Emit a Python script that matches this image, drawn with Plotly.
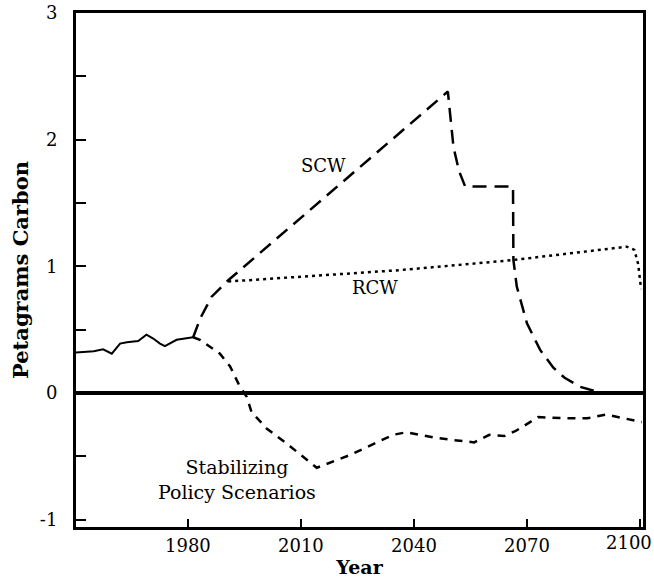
import plotly.graph_objects as go

# Historical record (solid)
hist_years = [1950.3, 1955.0, 1957.5, 1959.8, 1962.0, 1963.8, 1966.8, 1969.0, 1970.8,
              1972.6, 1973.9, 1975.3, 1977.0, 1979.2, 1981.4]
hist_vals = [0.32, 0.33, 0.345, 0.31, 0.39, 0.40, 0.41, 0.46, 0.43,
             0.39, 0.37, 0.39, 0.42, 0.43, 0.44]

# SCW scenario (long dash)
scw_years = [1981.4, 1983.3, 1986.3, 1990.7, 2049.0, 2049.5, 2050.5, 2052.0, 2053.6,
             2066.3, 2066.4, 2067.3, 2070.0, 2073.5, 2077.0, 2080.0, 2084.0, 2088.0, 2091.0]
scw_vals = [0.44, 0.59, 0.76, 0.89, 2.38, 2.22, 1.94, 1.75, 1.63,
            1.63, 1.05, 0.84, 0.55, 0.34, 0.20, 0.12, 0.05, 0.015, 0.0]

# RCW scenario (dotted)
rcw_years = [1990.7, 2036.3, 2066.4, 2096.5, 2098.5, 2099.5, 2100.3]
rcw_vals = [0.88, 0.97, 1.05, 1.155, 1.13, 1.02, 0.82]

# Stabilizing policy scenarios (short dash)
pol_years = [1981.4, 1983.2, 1988.5, 1991.2, 1993.8, 1995.6, 1996.9, 2000.9, 2007.1,
             2014.2, 2023.0, 2034.5, 2038.0, 2045.1, 2050.0, 2056.0, 2060.0, 2064.0,
             2067.0, 2073.0, 2080.0, 2086.0, 2091.0, 2100.5]
pol_vals = [0.44, 0.42, 0.31, 0.21, 0.05, -0.03, -0.15, -0.28, -0.42,
            -0.59, -0.49, -0.33, -0.31, -0.35, -0.37, -0.39, -0.33, -0.34,
            -0.30, -0.19, -0.20, -0.20, -0.17, -0.23]

x_ticks = [1980, 2010, 2040, 2070, 2100]
x_labels = ["1980", "2010", "2040", "2070", ""]
y_ticks = [-1, 0, 1, 2, 3]

FONT = "DejaVu Serif"

fig = go.Figure()
fig.add_trace(go.Scatter(x=hist_years, y=hist_vals, mode="lines",
                         line=dict(color="black", width=2)))
fig.add_trace(go.Scatter(x=scw_years, y=scw_vals, mode="lines",
                         line=dict(color="black", width=2.5, dash="14px,8px")))
fig.add_trace(go.Scatter(x=rcw_years, y=rcw_vals, mode="lines",
                         line=dict(color="black", width=2.5, dash="3px,4px")))
fig.add_trace(go.Scatter(x=pol_years, y=pol_vals, mode="lines",
                         line=dict(color="black", width=2.5, dash="8px,7px")))

ann_font = dict(family=FONT, size=18, color="black")
fig.add_annotation(x=2015.9, y=1.80, text="SCW", showarrow=False, font=ann_font)
fig.add_annotation(x=2029.7, y=0.83, text="RCW", showarrow=False, font=ann_font)
fig.add_annotation(x=1993.0, y=-0.68, text="Stabilizing<br>Policy Scenarios",
                   showarrow=False, font=dict(family=FONT, size=19, color="black"),
                   align="center")
# last x tick label, shifted left so it stays inside the page (as in the reference)
fig.add_annotation(x=x_ticks[-1], y=0, yref="paper", yanchor="top", xanchor="center",
                   xshift=-11, yshift=-3, text=str(x_ticks[-1]), showarrow=False,
                   font=dict(family=FONT, size=18, color="black"))

fig.update_layout(
    width=654, height=581,
    margin=dict(l=76, r=11, t=13, b=54),
    paper_bgcolor="white", plot_bgcolor="white",
    showlegend=False,
    font=dict(family=FONT, color="black"),
    xaxis=dict(range=[1950.3, 2100.8], tickvals=x_ticks, ticktext=x_labels,
               ticks="inside", ticklen=8, tickwidth=2, tickcolor="black",
               showline=True, linecolor="black", linewidth=3, mirror=True,
               showgrid=False, zeroline=False, automargin=False,
               tickfont=dict(family=FONT, size=18, color="black"),
               title=dict(text="<b>Year</b>", font=dict(family=FONT, size=19, color="black"),
                          standoff=7)),
    yaxis=dict(range=[-1.058, 3], tickvals=y_ticks, ticktext=[str(v) for v in y_ticks],
               ticks="inside", ticklen=10, tickwidth=2, tickcolor="black",
               minor=dict(dtick=0.5, tick0=0, ticks="inside", ticklen=10, tickwidth=2,
                          tickcolor="black", showgrid=False),
               showline=True, linecolor="black", linewidth=3, mirror=True,
               showgrid=False, zeroline=True, zerolinecolor="black", zerolinewidth=3.5,
               automargin=False, ticklabelstandoff=12,
               tickfont=dict(family=FONT, size=18, color="black"),
               title=dict(text="<b>Petagrams Carbon</b>",
                          font=dict(family=FONT, size=21, color="black"), standoff=6)),
)

fig.write_html("out.html", config={"displayModeBar": False},
               post_script="document.body.style.margin='0';document.body.style.padding='0';")
